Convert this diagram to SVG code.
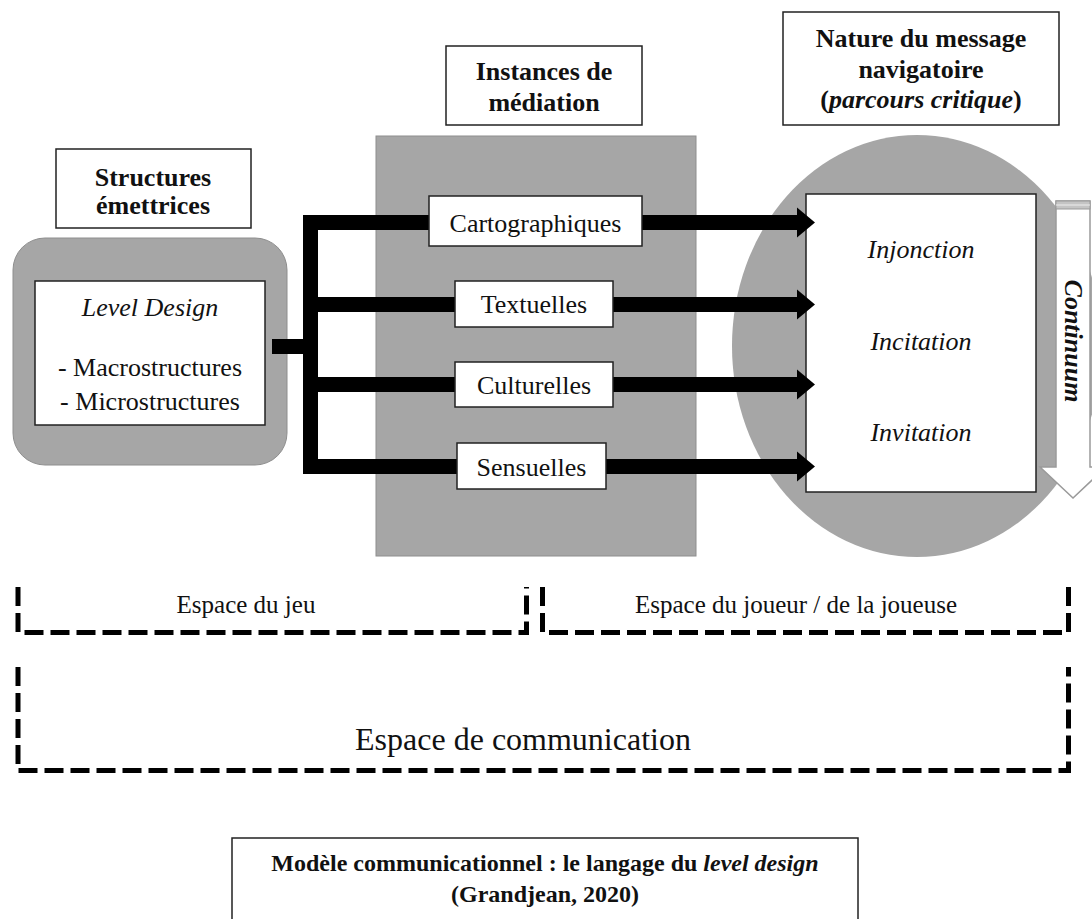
<svg xmlns="http://www.w3.org/2000/svg" width="1092" height="919" viewBox="0 0 1092 919">
<style>
.box{fill:#fff;stroke:#222;stroke-width:1.5}
.gray{fill:#a6a6a6;stroke:#8e8e8e;stroke-width:1}
.t{font-family:"Liberation Serif","Times New Roman",serif;font-size:26px;fill:#111;text-anchor:middle}
.b{font-weight:bold}
.i{font-style:italic}
.dash{fill:none;stroke:#000;stroke-width:5;stroke-dasharray:19 7}
.wire{fill:none;stroke:#000;stroke-width:15}
</style>
<defs>
<marker id="ah" markerUnits="userSpaceOnUse" markerWidth="20" markerHeight="30" refX="0" refY="15" orient="auto" overflow="visible">
<path d="M0,0 L18,15 L0,30 z" fill="#000"/>
</marker>
</defs>
<rect width="1092" height="919" fill="#fff"/>

<g id="structures-title">
<rect class="box" x="56" y="149" width="195" height="79"/>
<text class="t b" x="153" y="186">Structures</text>
<text class="t b" x="153" y="214">émettrices</text>
</g>
<g id="structures">
<rect class="gray" x="13" y="238" width="274" height="227" rx="32"/>
<rect class="box" x="35" y="281" width="230" height="144"/>
<text class="t i" x="150" y="316">Level Design</text>
<text class="t" x="150" y="376">- Macrostructures</text>
<text class="t" x="150" y="410">- Microstructures</text>
</g>

<g id="instances-title">
<rect class="box" x="446" y="46" width="196" height="79"/>
<text class="t b" x="544" y="80">Instances de</text>
<text class="t b" x="544" y="111">médiation</text>
</g>
<g id="instances-bg">
<rect class="gray" x="376" y="136" width="320" height="420"/>
</g>

<g id="nature-title">
<rect class="box" x="783" y="12" width="276" height="113"/>
<text class="t b" x="921" y="47">Nature du message</text>
<text class="t b" x="921" y="78">navigatoire</text>
<text class="t b" x="921" y="108">(<tspan class="i">parcours critique</tspan>)</text>
</g>
<g id="nature">
<ellipse cx="917" cy="346" rx="185" ry="211" fill="#a6a6a6"/>
<rect class="box" x="806" y="194" width="230" height="298"/>
<text class="t i" x="921" y="258">Injonction</text>
<text class="t i" x="921" y="350">Incitation</text>
<text class="t i" x="921" y="441">Invitation</text>
</g>

<g id="continuum">
<polygon points="1056,201 1090,201 1090,467 1106,467 1073,498 1040,467 1056,467" fill="#fff" stroke="#9a9a9a" stroke-width="1.5"/>
<rect x="1056" y="201" width="34" height="8" fill="#c4c4c4" stroke="#9a9a9a" stroke-width="1"/>
<line x1="1056" y1="205" x2="1090" y2="205" stroke="#eee" stroke-width="1"/>
<text class="t b i" x="1073" y="341" dominant-baseline="central" transform="rotate(90 1073 341)">Continuum</text>
</g>

<g id="connectors">
<line class="wire" x1="272" y1="346.5" x2="311" y2="346.5" stroke-width="16"/>
<line class="wire" x1="310.5" y1="215" x2="310.5" y2="474"/>
<line class="wire" x1="303" y1="222.5" x2="797" y2="222.5" marker-end="url(#ah)"/>
<line class="wire" x1="303" y1="304.5" x2="797" y2="304.5" marker-end="url(#ah)"/>
<line class="wire" x1="303" y1="384.5" x2="797" y2="384.5" marker-end="url(#ah)"/>
<line class="wire" x1="303" y1="466.5" x2="797" y2="466.5" marker-end="url(#ah)"/>
</g>

<g id="cartographiques">
<rect class="box" x="429" y="196" width="213" height="50"/>
<text class="t" x="535.5" y="232">Cartographiques</text>
</g>
<g id="textuelles">
<rect class="box" x="455" y="281" width="158" height="46"/>
<text class="t" x="534" y="313">Textuelles</text>
</g>
<g id="culturelles">
<rect class="box" x="455" y="362" width="158" height="45"/>
<text class="t" x="534" y="394">Culturelles</text>
</g>
<g id="sensuelles">
<rect class="box" x="457" y="443" width="149" height="46"/>
<text class="t" x="531.5" y="476">Sensuelles</text>
</g>

<g id="espace-jeu">
<path class="dash" d="M18,587 V632.5 H526.5 V587"/>
<text class="t" x="246" y="613" style="font-size:25px">Espace du jeu</text>
</g>
<g id="espace-joueur">
<path class="dash" d="M542.5,587 V632.5 H1068.5 V587"/>
<text class="t" x="796" y="613" style="font-size:25px">Espace du joueur / de la joueuse</text>
</g>
<g id="espace-communication">
<path class="dash" d="M18,667 V770.5 H1068.5 V667"/>
<text class="t" x="523" y="750" style="font-size:32px">Espace de communication</text>
</g>

<g id="caption">
<rect class="box" x="232" y="838" width="626" height="100"/>
<text class="t b" x="545" y="871" style="font-size:24px">Modèle communicationnel : le langage du <tspan class="i">level design</tspan></text>
<text class="t b" x="545" y="902" style="font-size:24px">(Grandjean, 2020)</text>
</g>
</svg>
